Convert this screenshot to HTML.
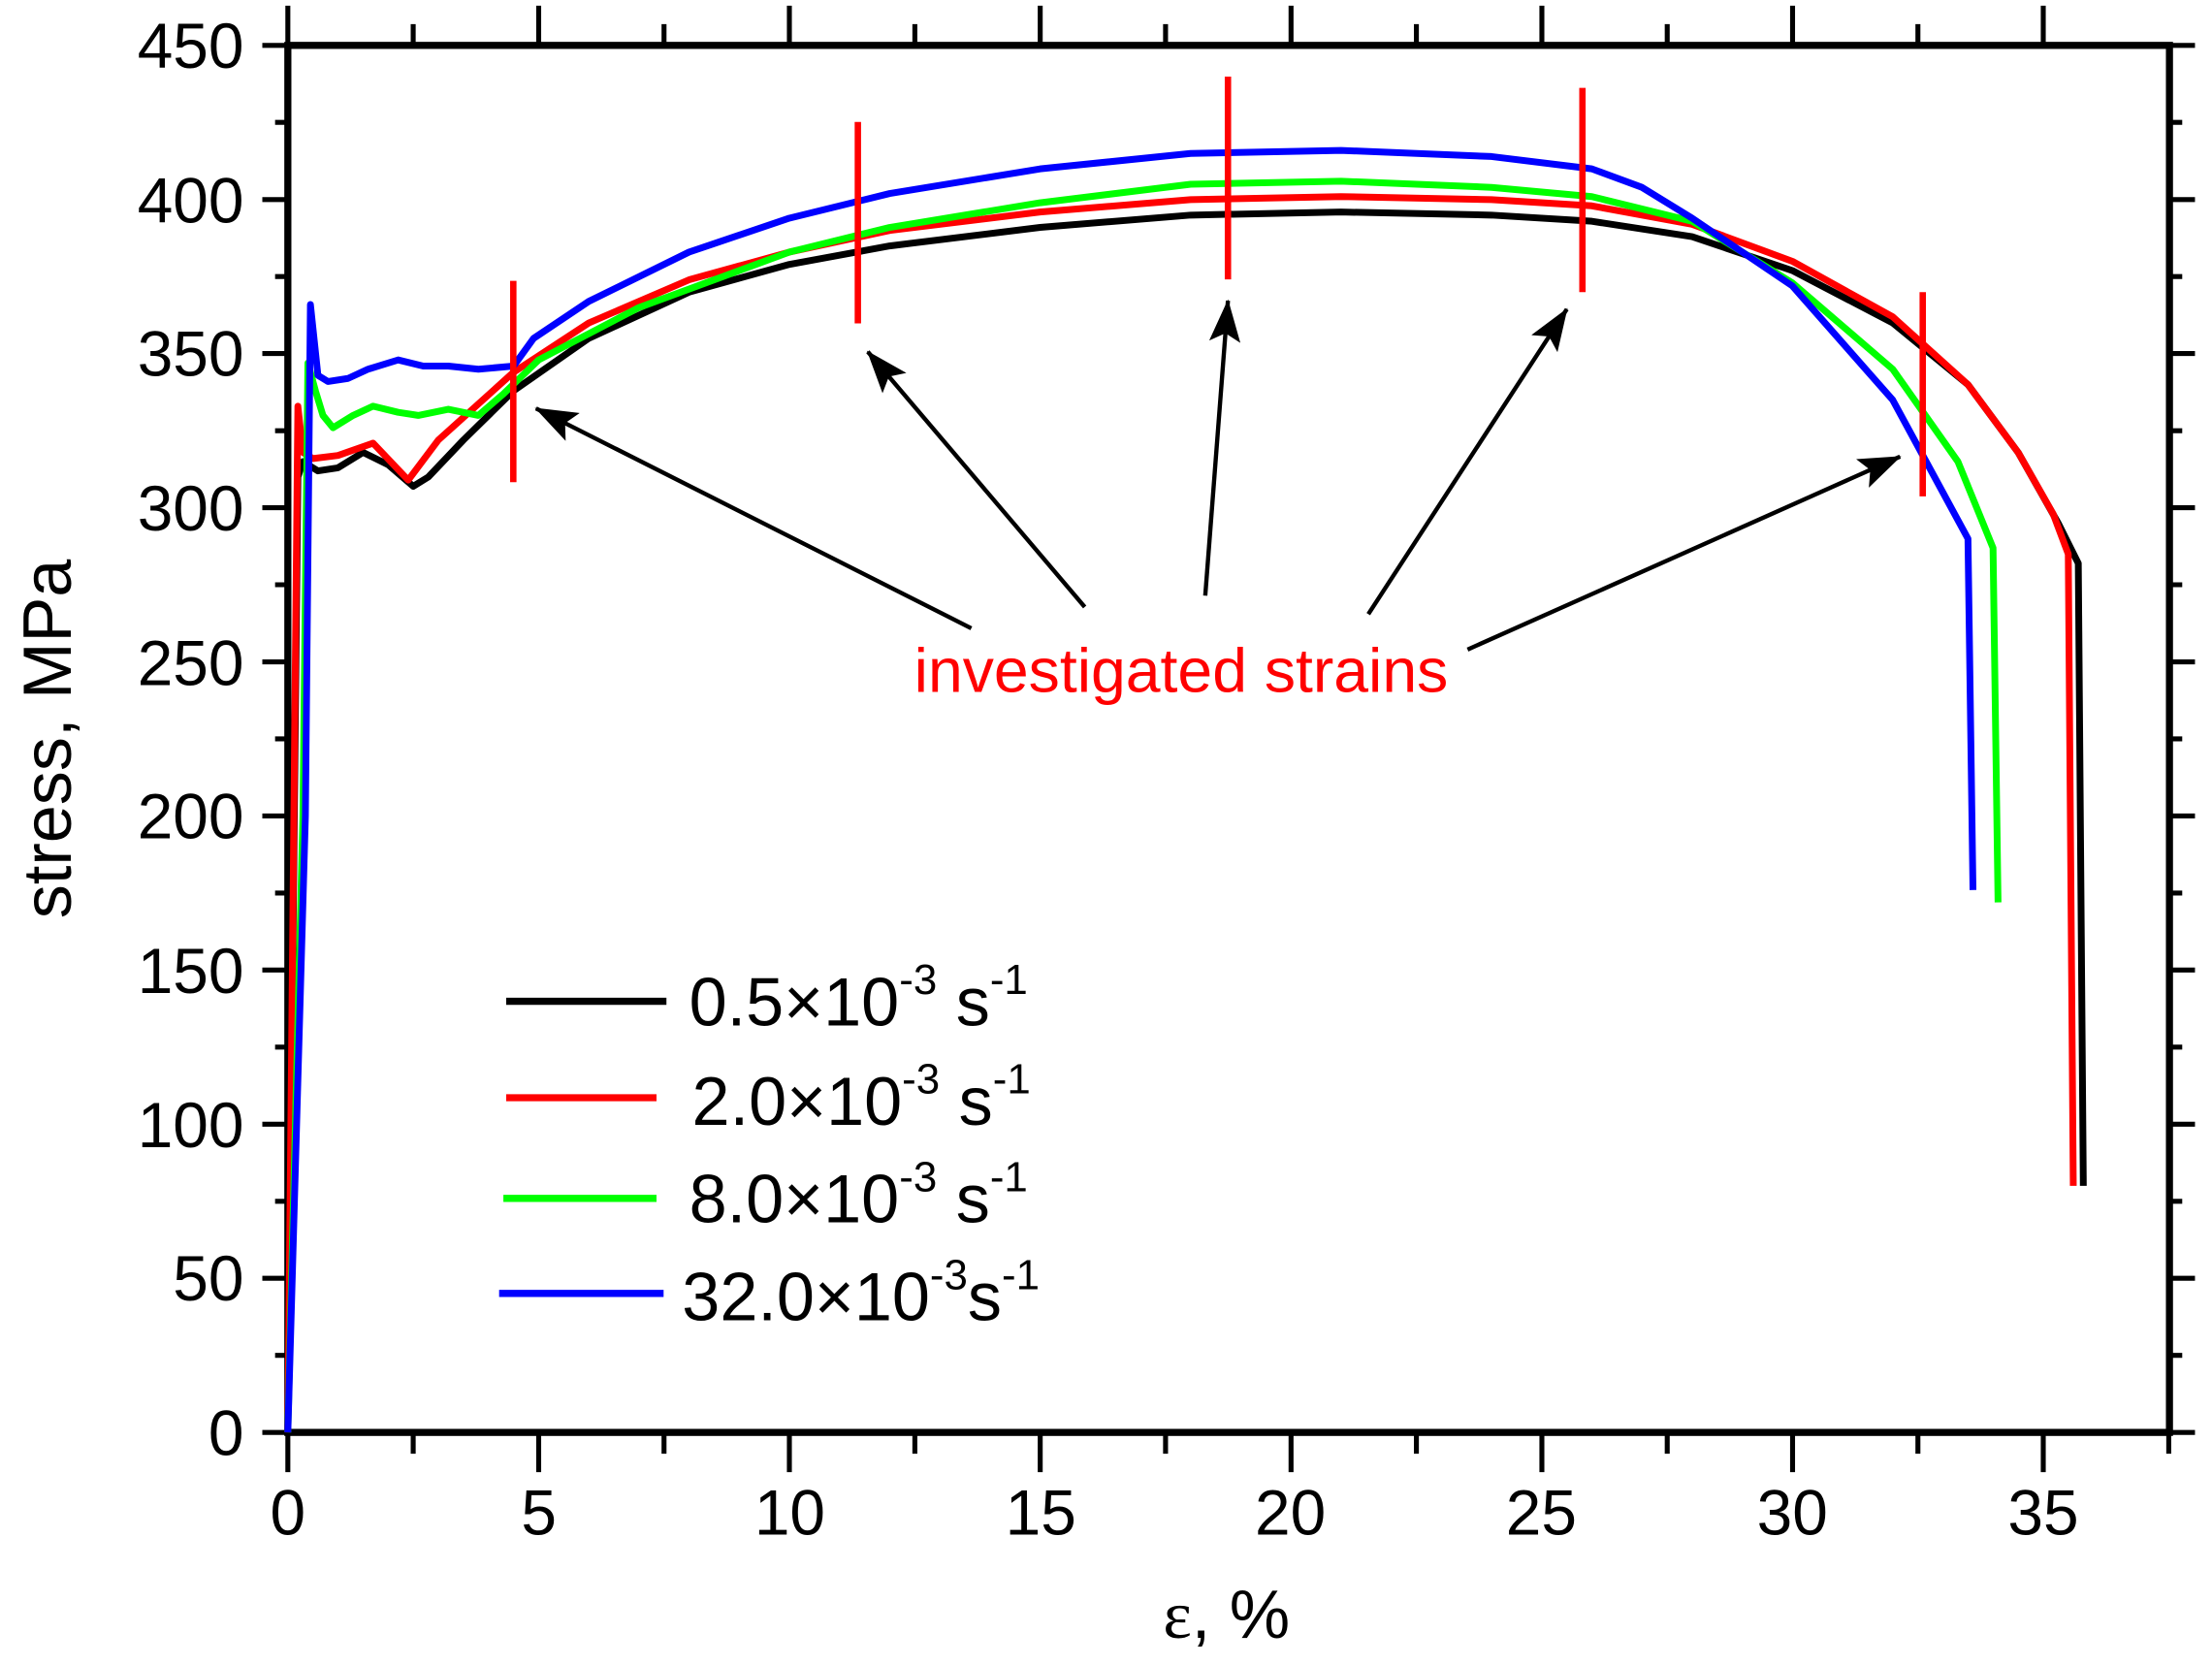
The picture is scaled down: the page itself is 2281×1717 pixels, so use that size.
<!DOCTYPE html>
<html><head><style>
html,body{margin:0;padding:0;background:#fff;}
svg{display:block;}
text{font-family:"Liberation Sans",sans-serif;fill:#000;}
</style></head><body>
<svg width="2281" height="1717" viewBox="0 0 1560 1174" preserveAspectRatio="none" xmlns="http://www.w3.org/2000/svg">
<defs>
<marker id="ah2" markerWidth="30" markerHeight="22" refX="29" refY="11" orient="auto" markerUnits="userSpaceOnUse">
<path d="M0,0 L30,11 L0,22 L6,11 Z" fill="#000"/>
</marker>
</defs>
<rect x="203" y="32" width="1327" height="978" fill="none" stroke="#000" stroke-width="5"/>
<g stroke="#000" stroke-width="3.5">
<path d="M203,1010v28 M379.9,1010v28 M556.7,1010v28 M733.6,1010v28 M910.5,1010v28 M1087.4,1010v28 M1264.2,1010v28 M1441,1010v28
M291.4,1010v15 M468.3,1010v15 M645.2,1010v15 M822,1010v15 M998.9,1010v15 M1175.8,1010v15 M1352.6,1010v15 M1529.5,1010v15"/>
<path d="M203,32v-28 M379.9,32v-28 M556.7,32v-28 M733.6,32v-28 M910.5,32v-28 M1087.4,32v-28 M1264.2,32v-28 M1441,32v-28
M291.4,32v-15 M468.3,32v-15 M645.2,32v-15 M822,32v-15 M998.9,32v-15 M1175.8,32v-15 M1352.6,32v-15"/>
<path d="M203,1010h-18 M203,901.3h-18 M203,792.7h-18 M203,684h-18 M203,575.3h-18 M203,466.7h-18 M203,358h-18 M203,249.3h-18 M203,140.7h-18 M203,32h-18
M203,955.7h-9 M203,847h-9 M203,738.3h-9 M203,629.7h-9 M203,521h-9 M203,412.3h-9 M203,303.7h-9 M203,195h-9 M203,86.3h-9"/>
<path d="M1530,1010h18 M1530,901.3h18 M1530,792.7h18 M1530,684h18 M1530,575.3h18 M1530,466.7h18 M1530,358h18 M1530,249.3h18 M1530,140.7h18 M1530,32h18
M1530,955.7h9 M1530,847h9 M1530,738.3h9 M1530,629.7h9 M1530,521h9 M1530,412.3h9 M1530,303.7h9 M1530,195h9 M1530,86.3h9"/>
</g>
<g font-size="45" text-anchor="middle">
<text x="203" y="1082">0</text><text x="380" y="1082">5</text><text x="557" y="1082">10</text><text x="734" y="1082">15</text>
<text x="910" y="1082">20</text><text x="1087" y="1082">25</text><text x="1264" y="1082">30</text><text x="1441" y="1082">35</text>
</g>
<g font-size="45" text-anchor="end">
<text x="172" y="1026">0</text><text x="172" y="917">50</text><text x="172" y="809">100</text><text x="172" y="700">150</text>
<text x="172" y="591">200</text><text x="172" y="483">250</text><text x="172" y="374">300</text><text x="172" y="265">350</text>
<text x="172" y="157">400</text><text x="172" y="48">450</text>
</g>
<text x="865" y="1155" font-size="48" text-anchor="middle"><tspan font-family="Liberation Serif,serif">ε</tspan>, %</text>
<text transform="translate(50,521) rotate(-90)" font-size="48" text-anchor="middle">stress, MPa</text>

<g transform="translate(203,1010) scale(35.37,-2.173)" fill="none" stroke-linejoin="round">
<path vector-effect="non-scaling-stroke" stroke="#000" stroke-width="7" d="M0,0 L0.2,310 L0.3,315 L0.6,312 L1,313 L1.5,318 L2,314 L2.5,307 L2.8,310 L3.5,322 L4.5,338 L6,355 L8,370 L10,379 L12,385 L15,391 L18,395 L21,396 L24,395 L26,393 L28,388 L30,377 L32,360 L33.5,340 L34.5,318 L35.3,295 L35.7,282 L35.8,80"/>
<path vector-effect="non-scaling-stroke" stroke="#f00" stroke-width="7" d="M0,0 L0.15,250 L0.2,333 L0.3,318 L0.5,316 L1,317 L1.7,321 L2.4,309 L3,322 L4.5,344 L6,360 L8,374 L10,383 L12,390 L15,396 L18,400 L21,401 L24,400 L26,398 L28,392 L30,380 L32,362 L33.5,340 L34.5,318 L35.2,298 L35.5,285 L35.6,80"/>
<path vector-effect="non-scaling-stroke" stroke="#0f0" stroke-width="7" d="M0,0 L0.3,200 L0.4,347 L0.55,338 L0.7,330 L0.9,326 L1.3,330 L1.7,333 L2.2,331 L2.6,330 L3.2,332 L3.8,330 L4.3,337 L5,348 L7,365 L10,383 L12,391 L15,399 L18,405 L21,406 L24,404 L26,401 L28,393 L30,373 L32,345 L33.3,315 L34,287 L34.1,172"/>
<path vector-effect="non-scaling-stroke" stroke="#00f" stroke-width="7" d="M0,0 L0.35,200 L0.45,366 L0.6,343 L0.8,341 L1.2,342 L1.6,345 L2.2,348 L2.7,346 L3.2,346 L3.8,345 L4.5,346 L4.9,355 L6,367 L8,383 L10,394 L12,402 L15,410 L18,415 L21,416 L24,414 L26,410 L27,404 L28,394 L30,372 L32,335 L33,305 L33.5,290 L33.6,176"/>
</g>

<g stroke="#f00" stroke-width="4.5">
<path d="M362,198V340 M605,86V228 M866,54V197 M1116,62V206 M1356,206V350"/>
</g>
<g stroke="#000" stroke-width="3" fill="none">
<line x1="685" y1="443" x2="378" y2="288" marker-end="url(#ah2)"/>
<line x1="765" y1="428" x2="612" y2="248" marker-end="url(#ah2)"/>
<line x1="850" y1="420" x2="866" y2="212" marker-end="url(#ah2)"/>
<line x1="965" y1="433" x2="1105" y2="218" marker-end="url(#ah2)"/>
<line x1="1035" y1="458" x2="1340" y2="322" marker-end="url(#ah2)"/>
</g>
<text x="833" y="488" font-size="44" text-anchor="middle" style="fill:#f00">investigated strains</text>

<g stroke-width="5">
<line x1="357" y1="706" x2="470" y2="706" stroke="#000"/>
<line x1="357" y1="774" x2="463" y2="774" stroke="#f00"/>
<line x1="355" y1="845" x2="463" y2="845" stroke="#0f0"/>
<line x1="352" y1="912" x2="468" y2="912" stroke="#00f"/>
</g>
<g font-size="48">
<text x="486" y="723">0.5×10<tspan font-size="30" dy="-22">-3</tspan><tspan dy="22"> s</tspan><tspan font-size="30" dy="-22">-1</tspan></text>
<text x="488" y="793">2.0×10<tspan font-size="30" dy="-22">-3</tspan><tspan dy="22"> s</tspan><tspan font-size="30" dy="-22">-1</tspan></text>
<text x="486" y="862">8.0×10<tspan font-size="30" dy="-22">-3</tspan><tspan dy="22"> s</tspan><tspan font-size="30" dy="-22">-1</tspan></text>
<text x="481" y="931">32.0×10<tspan font-size="30" dy="-22">-3</tspan><tspan dy="22">s</tspan><tspan font-size="30" dy="-22">-1</tspan></text>
</g>
</svg>
</body></html>
